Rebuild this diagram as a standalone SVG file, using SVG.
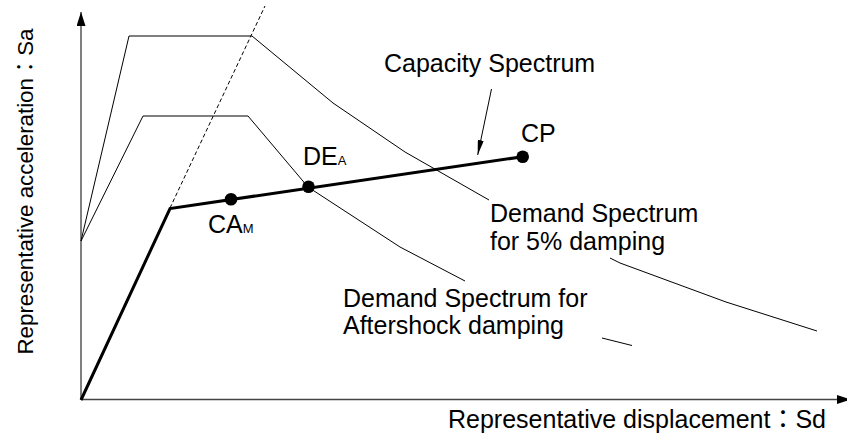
<svg xmlns="http://www.w3.org/2000/svg" width="847" height="443" viewBox="0 0 847 443">
  <style>
    text { font-family: "Liberation Sans", "Noto Sans CJK JP", sans-serif; fill: #000; }
    .lbl { font-size: 25px; }
    .sub { font-size: 13px; }
    .thin { fill: none; stroke: #000; stroke-width: 1; stroke-linejoin: miter; }
    .cap { fill: none; stroke: #000; stroke-width: 3; stroke-linejoin: miter; }
    .dash { fill: none; stroke: #000; stroke-width: 1; stroke-dasharray: 4 2.5; }
    .pt { fill: #000; }
  </style>
  <defs>
    <marker id="axisHead" viewBox="0 0 14 9" refX="14" refY="4.5" markerWidth="14" markerHeight="9" markerUnits="userSpaceOnUse" orient="auto">
      <path d="M0,0 L14,4.5 L0,9 Z" fill="#000"/>
    </marker>
    <marker id="ptrHead" viewBox="0 0 15 6" refX="15" refY="3" markerWidth="15" markerHeight="6" markerUnits="userSpaceOnUse" orient="auto">
      <path d="M0,0 L15,3 L0,6 Z" fill="#000"/>
    </marker>
  </defs>

  <!-- axes -->
  <g id="axes">
    <line x1="81" y1="400" x2="81" y2="12" stroke="#000" stroke-width="1" marker-end="url(#axisHead)"/>
    <line x1="81" y1="399.5" x2="851" y2="399.5" stroke="#444" stroke-width="1.5" marker-end="url(#axisHead)"/>
  </g>

  <!-- spectra and connectors -->
  <g id="connectors">
    <!-- demand spectrum, 5% damping -->
    <polyline class="thin" points="81,241 129,36 252,36 333,103 405,152 489,200"/>
    <polyline class="thin" points="610,258 620,263 726,302 817,331"/>
    <!-- demand spectrum, aftershock damping -->
    <polyline class="thin" points="81,241 143,116 248,116 308,187 400,247 465,281"/>
    <line class="thin" x1="602" y1="338" x2="632" y2="345.5"/>
    <!-- initial stiffness extension -->
    <line class="dash" x1="170" y1="208" x2="265" y2="6"/>
    <!-- capacity spectrum -->
    <polyline class="cap" points="81,400 170,208.5 522.7,156.7"/>
    <!-- pointer to capacity spectrum -->
    <line x1="491.5" y1="89" x2="477.7" y2="155" stroke="#000" stroke-width="1" marker-end="url(#ptrHead)"/>
  </g>

  <!-- performance points -->
  <g id="node-cam">
    <circle class="pt" cx="231" cy="199.3" r="6.3"/>
    <text class="lbl" x="208" y="233">CA<tspan class="sub">M</tspan></text>
  </g>
  <g id="node-dea">
    <circle class="pt" cx="308.5" cy="186.7" r="6.3"/>
    <text class="lbl" x="303" y="165">DE<tspan class="sub">A</tspan></text>
  </g>
  <g id="node-cp">
    <circle class="pt" cx="522.7" cy="156.7" r="6.3"/>
    <text class="lbl" x="521" y="141.5">CP</text>
  </g>

  <!-- curve labels -->
  <g id="label-capacity">
    <text class="lbl" x="384" y="71.5">Capacity Spectrum</text>
  </g>
  <g id="label-demand5">
    <text class="lbl" x="490" y="221.5">Demand Spectrum</text>
    <text class="lbl" x="490" y="250">for 5% damping</text>
  </g>
  <g id="label-aftershock">
    <text class="lbl" x="343" y="306.5">Demand Spectrum for</text>
    <text class="lbl" x="343" y="333.5">Aftershock damping</text>
  </g>

  <!-- axis titles -->
  <g id="label-x">
    <text class="lbl" x="448" y="428">Representative displacement：Sd</text>
  </g>
  <g id="label-y">
    <text class="lbl" text-anchor="middle" transform="translate(33,191.5) rotate(-90)" style="font-size:22.3px">Representative acceleration：Sa</text>
  </g>
</svg>
